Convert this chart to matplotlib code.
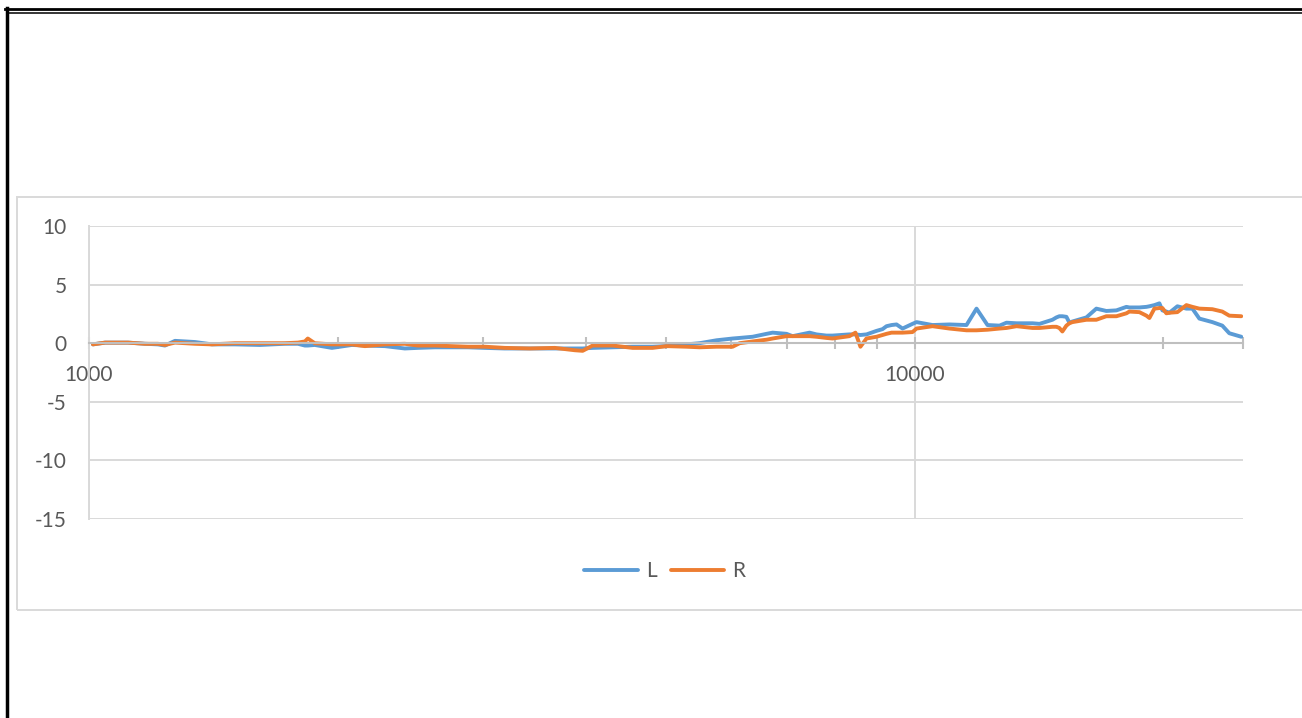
import matplotlib.pyplot as plt
from matplotlib.lines import Line2D
from matplotlib.patches import Rectangle
from matplotlib.ticker import FixedLocator, NullFormatter

# frequency (Hz) and level (dB) for the two channels
freq = [1011, 1046, 1115, 1169, 1212, 1236, 1271, 1344, 1409, 1502, 1611, 1727,
        1791, 1826, 1841, 1877, 1969, 2082, 2159, 2283, 2413, 2502, 2624, 2751,
        2877, 3016, 3188, 3419, 3666, 3876, 3963, 4075, 4309, 4556, 4817, 5008,
        5297, 5491, 5758, 6021, 6140, 6367, 6620, 6732, 6998, 7117, 7462, 7608,
        7822, 7954, 8340, 8481, 8600, 8746, 8994, 9147, 9249, 9380, 9511, 9672,
        9944, 10056, 10514, 11025, 11561, 11889, 12258, 12676, 12926, 13293,
        13900, 14171, 14693, 14855, 14978, 15105, 15276, 15404, 15533, 16152,
        16606, 17075, 17561, 18058, 18210, 18725, 19096, 19255, 19525, 19800,
        19966, 20190, 20360, 20819, 21348, 21710, 22134, 22953, 23597, 24062,
        24880]
left = [-0.1, 0.05, 0.05, -0.05, -0.1, -0.2, 0.2, 0.1, -0.1, -0.1, -0.15, -0.05,
        -0.05, -0.2, -0.2, -0.15, -0.4, -0.15, -0.2, -0.25, -0.45, -0.4, -0.35, -0.35,
        -0.35, -0.4, -0.45, -0.45, -0.45, -0.45, -0.45, -0.4, -0.35, -0.3, -0.3, -0.25,
        -0.1, 0.0, 0.25, 0.4, 0.45, 0.55, 0.8, 0.9, 0.8, 0.6, 0.9, 0.75,
        0.65, 0.65, 0.75, 0.75, 0.7, 0.75, 1.05, 1.2, 1.45, 1.55, 1.6, 1.25,
        1.65, 1.8, 1.55, 1.6, 1.55, 2.95, 1.55, 1.5, 1.75, 1.7,
        1.7, 1.65, 2.0, 2.2, 2.3, 2.3, 2.25, 1.75, 1.85, 2.2,
        2.95, 2.75, 2.8, 3.1, 3.05, 3.05, 3.1, 3.15, 3.25, 3.4,
        2.8, 2.7, 2.6, 3.15, 2.95, 2.95, 2.1, 1.8, 1.5, 0.85,
        0.55]
right = [-0.1, 0.05, 0.05, -0.05, -0.05, -0.15, 0.05, -0.05, -0.1, 0.0, 0.0, 0.0,
         0.05, 0.15, 0.4, 0.0, -0.1, -0.1, -0.25, -0.1, -0.05, -0.2, -0.2, -0.25,
         -0.3, -0.3, -0.4, -0.45, -0.4, -0.6, -0.65, -0.2, -0.2, -0.4, -0.4, -0.25,
         -0.3, -0.35, -0.3, -0.3, 0.0, 0.15, 0.3, 0.4, 0.6, 0.6, 0.6, 0.55,
         0.45, 0.4, 0.6, 0.9, -0.3, 0.4, 0.55, 0.7, 0.8, 0.9, 0.9, 0.9,
         0.95, 1.25, 1.45, 1.25, 1.1, 1.1, 1.15, 1.25, 1.3, 1.45,
         1.3, 1.3, 1.4, 1.4, 1.3, 1.0, 1.5, 1.7, 1.8, 2.0,
         2.0, 2.3, 2.3, 2.55, 2.7, 2.65, 2.35, 2.15, 2.95, 3.0,
         3.0, 2.55, 2.6, 2.65, 3.25, 3.1, 2.95, 2.9, 2.7, 2.35,
         2.3]

y_ticks = [-15, -10, -5, 0, 5, 10]
y_labels = ["-15", "-10", "-5", "0", "5", "10"]
x_ticks = [1000, 10000]
x_labels = ["1000", "10000"]
x_minor = [2000, 3000, 4000, 5000, 6000, 7000, 8000, 9000, 20000, 25000]

plt.rcParams['font.family'] = ['Lato', 'DejaVu Sans']
plt.rcParams['axes.unicode_minus'] = False

W, H = 1302, 718
fig = plt.figure(figsize=(W / 100, H / 100), dpi=100)

# outer black frame (thick left, double line at top)
fig.add_artist(Line2D([6.5 / W, 6.5 / W], [0, 1 - 8 / H], color='black', lw=2.5,
                      transform=fig.transFigure))
fig.add_artist(Line2D([5 / W, 1], [1 - 9.2 / H, 1 - 9.2 / H], color='black', lw=2.0,
                      transform=fig.transFigure))
fig.add_artist(Line2D([8 / W, 1], [1 - 12.8 / H, 1 - 12.8 / H], color='black', lw=1.1,
                      transform=fig.transFigure))

# chart area border
fig.add_artist(Rectangle((17 / W, 1 - 610 / H), 1.2, (610 - 197) / H, fill=False,
                         edgecolor='#d9d9d9', lw=1.4, transform=fig.transFigure))

ax = fig.add_axes([89 / W, 1 - 519 / H, (1243 - 89) / W, (519 - 226) / H])
ax.set_xscale('log')
ax.plot(freq, left, color='#5b9bd5', lw=2.8, label='L',
        solid_joinstyle='round', solid_capstyle='round')
ax.plot(freq, right, color='#ed7d31', lw=2.8, label='R',
        solid_joinstyle='round', solid_capstyle='round')

ax.set_xlim(1000, 25000)
ax.set_ylim(-15, 10)

ax.xaxis.set_major_locator(FixedLocator(x_ticks))
ax.set_xticklabels(x_labels)
ax.xaxis.set_minor_locator(FixedLocator(x_minor))
ax.xaxis.set_minor_formatter(NullFormatter())
ax.set_yticks(y_ticks)
ax.set_yticklabels(y_labels)

ax.grid(True, which='major', color='#d9d9d9', lw=1.4)
ax.set_axisbelow(True)

for s in ['top', 'right']:
    ax.spines[s].set_visible(False)
ax.spines['left'].set_color('#d9d9d9')
ax.spines['left'].set_linewidth(1.4)
ax.spines['bottom'].set_position(('data', 0))
ax.spines['bottom'].set_color('#bfbfbf')
ax.spines['bottom'].set_linewidth(1.5)

ax.tick_params(axis='y', length=0, pad=16, labelsize=15, labelcolor='#595959')
ax.tick_params(axis='x', which='both', direction='inout', length=8, width=1.5,
               color='#bfbfbf', labelsize=15, labelcolor='#595959', pad=12)

fig.legend(loc='center', bbox_to_anchor=(665 / W, 1 - 571 / H), ncol=2, frameon=False,
           fontsize=15, labelcolor='#595959', handlelength=2.55, handletextpad=0.4,
           columnspacing=0.7)

fig.savefig('out.png', dpi=100)
